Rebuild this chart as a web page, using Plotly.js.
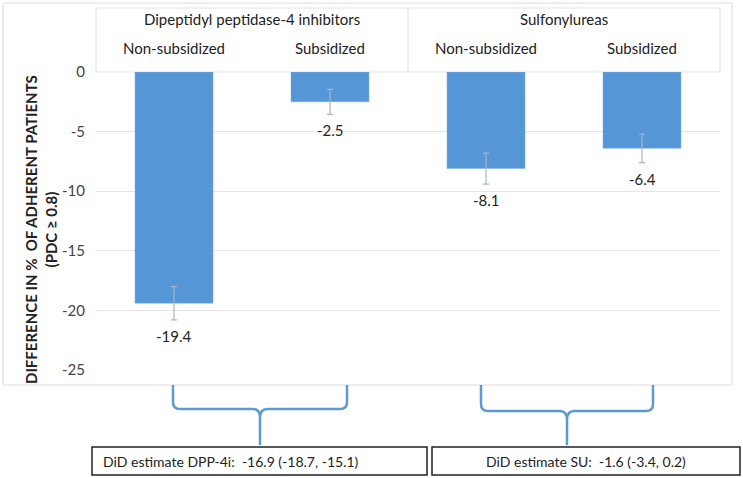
<!DOCTYPE html>
<html>
<head>
<meta charset="utf-8">
<script src="https://cdn.plot.ly/plotly-3.0.1.min.js"></script>
<style>html,body{margin:0;padding:0;background:#fff;}#chart{width:743px;height:478px;}</style>
</head>
<body>
<div id="chart"></div>
<script>
// ---- data ----
const groups = ["Dipeptidyl peptidase-4 inhibitors", "Sulfonylureas"];
const subgroups = ["Non-subsidized", "Subsidized", "Non-subsidized", "Subsidized"];
const values = [-19.4, -2.5, -8.1, -6.4];
const errors = [1.4, 1.05, 1.3, 1.2];
const yTicks = [0, -5, -10, -15, -20, -25];
const didLabels = ["DiD estimate DPP-4i:  -16.9 (-18.7, -15.1)", "DiD estimate SU:  -1.6 (-3.4, 0.2)"];

// ---- layout helpers (pixel -> paper) ----
const L = 96, R = 720, T = 72, B = 370;
const px = x => (x - L) / (R - L);
const py = y => (B - y) / (B - T);
const FONT = "Lato, 'Open Sans', sans-serif";

const xs = values.map((v, i) => i);

const bars = {
  type: "bar", x: xs, y: values,
  marker: {color: "#5596d6", line: {color: "#7fb0e0", width: 0.5}},
  error_y: {type: "data", array: errors, visible: true, color: "#a8b4c8", thickness: 1.2, width: 3},
  hoverinfo: "none", showlegend: false
};

const shapes = [];
const annotations = [];
// value labels below the error bars
values.forEach((v, i) => {
  annotations.push({xref: "x", yref: "y", x: i, y: v - errors[i], text: v.toFixed(1), showarrow: false,
    xanchor: "center", yanchor: "top", yshift: -5, font: {family: FONT, size: 15, color: "#222"}});
});
// outer chart frame
shapes.push({type: "rect", xref: "paper", yref: "paper", x0: px(3), x1: px(732), y0: py(3), y1: py(385),
  line: {color: "#dcdcdc", width: 1}, layer: "below"});
// header box
shapes.push({type: "rect", xref: "paper", yref: "paper", x0: px(96), x1: px(720), y0: py(8), y1: py(72),
  line: {color: "#e2e2e2", width: 1}, layer: "below"});
shapes.push({type: "line", xref: "paper", yref: "paper", x0: px(408), x1: px(408), y0: py(8), y1: py(72),
  line: {color: "#e2e2e2", width: 1}});

// group headers and subgroup labels
groups.forEach((g, k) => {
  annotations.push({xref: "x", yref: "paper", x: 2 * k + 0.5, y: py(19), text: g, showarrow: false,
    font: {family: FONT, size: 15, color: "#222"}, xanchor: "center", yanchor: "middle"});
});
subgroups.forEach((s, i) => {
  annotations.push({xref: "x", yref: "paper", x: i, y: py(48), text: s, showarrow: false,
    font: {family: FONT, size: 15, color: "#222"}, xanchor: "center", yanchor: "middle"});
});

// y title
annotations.push({xref: "paper", yref: "paper", x: px(41), y: py(230), textangle: -90,
  text: "<b>DIFFERENCE IN %  OF ADHERENT PATIENTS</b><br><b>(PDC ≥ 0.8)</b>", showarrow: false,
  font: {family: FONT, size: 15, color: "#222"}, xanchor: "center", yanchor: "middle", align: "center"});

// braces
function brace(x0, x1, xm, yTop, yMid, yTip) {
  const r = 7;
  const p = (x, y) => px(x) + "," + py(y);
  return "M" + p(x0, yTop) + " L" + p(x0, yMid - r) + " Q" + p(x0, yMid) + " " + p(x0 + r, yMid) +
    " L" + p(xm - r, yMid) + " Q" + p(xm, yMid) + " " + p(xm, yMid + r + 2) + " L" + p(xm, yTip) +
    " M" + p(xm, yMid + r + 2) + " Q" + p(xm, yMid) + " " + p(xm + r, yMid) +
    " L" + p(x1 - r, yMid) + " Q" + p(x1, yMid) + " " + p(x1, yMid - r) + " L" + p(x1, yTop);
}
shapes.push({type: "path", xref: "paper", yref: "paper", path: brace(173, 347, 260, 385, 409, 445),
  line: {color: "#5b9bd5", width: 2.5}});
shapes.push({type: "path", xref: "paper", yref: "paper", path: brace(481, 653, 567, 385, 411, 445),
  line: {color: "#5b9bd5", width: 2.5}});

// DiD boxes
const boxes = [[92, 427], [432, 740]];
boxes.forEach((b, k) => {
  shapes.push({type: "rect", xref: "paper", yref: "paper", x0: px(b[0]), x1: px(b[1]), y0: py(447), y1: py(475),
    line: {color: "#222", width: 1.5}});
});
annotations.push({xref: "paper", yref: "paper", x: px(101), y: py(461), text: didLabels[0], showarrow: false,
  font: {family: FONT, size: 14, color: "#222"}, xanchor: "left", yanchor: "middle"});
annotations.push({xref: "paper", yref: "paper", x: px(586), y: py(461), text: didLabels[1], showarrow: false,
  font: {family: FONT, size: 14, color: "#222"}, xanchor: "center", yanchor: "middle"});

const layout = {
  width: 743, height: 478,
  margin: {l: L, r: 743 - R, t: T, b: 478 - B, pad: 0},
  paper_bgcolor: "#fff", plot_bgcolor: "#fff",
  bargap: 0.5,
  xaxis: {range: [-0.5, 3.5], showticklabels: false, showgrid: false, zeroline: false, showline: false, fixedrange: true},
  yaxis: {range: [-25, 0], tickvals: yTicks, ticktext: yTicks.map(String), showgrid: true, gridcolor: "#e4e4e4",
    gridwidth: 1, zeroline: false, showline: false, ticks: "", ticklabelstandoff: 10,
    tickfont: {family: FONT, size: 15, color: "#444"}},
  shapes: shapes, annotations: annotations, showlegend: false
};

Plotly.newPlot("chart", [bars], layout, {displayModeBar: false, staticPlot: true});
</script>
</body>
</html>
